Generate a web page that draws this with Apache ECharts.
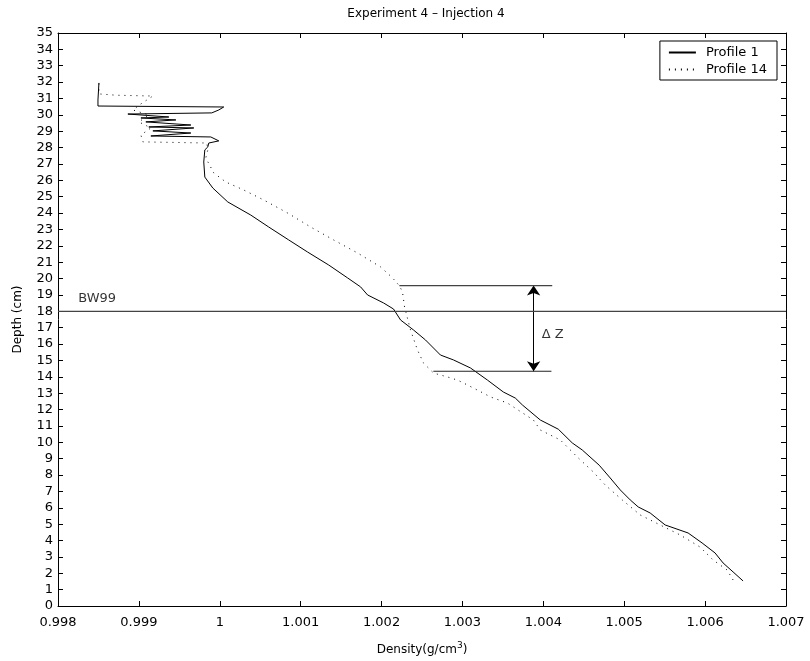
<!DOCTYPE html>
<html>
<head>
<meta charset="utf-8">
<script src="https://cdn.jsdelivr.net/npm/echarts@6/dist/echarts.min.js"></script>
<style>
  html, body { margin: 0; padding: 0; background: #fff; }
  #chart { width: 810px; height: 661px; }
</style>
</head>
<body>
<div id="chart"></div>
<script>
// Profile 1 (solid), bottom to top
const p1Density = [1.006469, 1.006346, 1.006222, 1.006123, 1.005963, 1.00579, 1.005506, 1.005321, 1.005173, 1.005074,
  1.004951, 1.004827, 1.004691, 1.004481, 1.004358, 1.004185, 1.003963, 1.003741, 1.003654, 1.003506,
  1.003309, 1.003099, 1.002889, 1.002728, 1.002543, 1.002395, 1.002235, 1.002148, 1.002025, 1.001827,
  1.001741, 1.00158, 1.001346, 1.001086, 1.000852, 1.000605, 1.000383, 1.000099, 0.999914, 0.999815,
  0.999802, 0.999815, 0.999852, 0.999864, 0.999988, 0.999889, 0.999148, 0.999642, 0.999173, 0.999679,
  0.999123, 0.999642, 0.999086, 0.999457, 0.999025, 0.99937, 0.998864, 0.999901, 0.999988, 1.000049,
  0.998494, 0.998494, 0.998506];
const p1Depth = [1.53, 2.08, 2.63, 3.24, 3.85, 4.46, 4.95, 5.68, 6.05, 6.48,
  7.09, 7.82, 8.6, 9.53, 9.96, 10.8, 11.36, 12.28, 12.7, 13.07,
  13.8, 14.54, 15.03, 15.33, 16.25, 16.86, 17.47, 18.14, 18.51, 19.0,
  19.49, 20.04, 20.83, 21.62, 22.36, 23.15, 23.88, 24.68, 25.53, 26.2,
  27.12, 27.86, 28.04, 28.28, 28.41, 28.65, 28.71, 28.89, 29.02, 29.2,
  29.26, 29.38, 29.57, 29.69, 29.81, 29.87, 30.05, 30.12, 30.3, 30.48,
  30.54, 30.91, 31.95];

// Profile 14 (dotted), bottom to top
const p14Density = [1.006346, 1.006272, 1.006099, 1.005938, 1.005691, 1.005444, 1.005198, 1.004975, 1.004765, 1.004617,
  1.00442, 1.00421, 1.003963, 1.003877, 1.003556, 1.003346, 1.003259, 1.003062, 1.002938, 1.002815,
  1.002642, 1.002519, 1.002444, 1.002358, 1.002284, 1.002259, 1.002222, 1.002136, 1.001988, 1.001704,
  1.001407, 1.001123, 1.00084, 1.000543, 1.000296, 1.000074, 0.999926, 0.999827, 0.999852, 0.99984,
  0.999049, 0.999025, 0.999148, 0.999, 0.999123, 0.998926, 0.999025, 0.999173, 0.998716, 0.998506,
  0.998506];
const p14Depth = [1.59, 2.2, 2.81, 3.6, 4.34, 4.95, 5.56, 6.48, 7.39, 8.19,
  9.1, 10.14, 10.75, 11.36, 12.4, 12.77, 13.0, 13.5, 13.8, 13.99,
  14.23, 14.84, 15.64, 16.86, 18.27, 19.18, 19.55, 20.04, 20.71, 21.56,
  22.36, 23.15, 24.0, 24.8, 25.41, 25.9, 26.45, 27.37, 27.86, 28.28,
  28.35, 28.77, 29.2, 29.57, 29.99, 30.3, 30.67, 31.15, 31.2, 31.28,
  32.0];

// reference marks
const bw99Depth = 18;
const dzTop = { depth: 19.57, from: 1.00222, to: 1.00411 };
const dzBottom = { depth: 14.34, from: 1.00264, to: 1.0041 };
const dzArrowDensity = 1.00388;

const xMin = 0.998, xMax = 1.007, yMin = 0, yMax = 35;
const font = 'DejaVu Sans';

const zip = (xs, ys) => xs.map((x, i) => [x, ys[i]]);

const chart = echarts.init(document.getElementById('chart'));

const axisCommon = {
  axisLine: { show: true, onZero: false, lineStyle: { color: '#000', width: 1 } },
  axisTick: { show: true, inside: true, length: 5, lineStyle: { color: '#000' } },
  splitLine: { show: false }
};

chart.setOption({
  animation: false,
  backgroundColor: '#fff',
  title: {
    text: 'Experiment 4 – Injection 4',
    left: 421, textAlign: 'center', top: 3,
    textStyle: { fontFamily: font, fontSize: 12, fontWeight: 'normal', color: '#000' }
  },
  grid: { left: 58, right: 24, top: 33, bottom: 55 },
  legend: {
    data: ['Profile 1', 'Profile 14'],
    orient: 'vertical',
    right: 33, top: 41,
    padding: [5, 10, 4, 8],
    itemGap: 4,
    itemWidth: 27, itemHeight: 10,
    itemStyle: { opacity: 0 },
    borderColor: '#000', borderWidth: 1, backgroundColor: '#fff',
    textStyle: { fontFamily: font, fontSize: 13, color: '#000', padding: [0, 0, 0, 5] }
  },
  xAxis: [
    Object.assign({
      type: 'value', min: xMin, max: xMax, interval: 0.001, position: 'bottom',
      name: '{a|Density(g/cm}{s|3}{a|)}', nameLocation: 'middle', nameGap: 35,
      nameTextStyle: {
        rich: {
          a: { fontFamily: font, fontSize: 12, color: '#000' },
          s: { fontFamily: font, fontSize: 9, color: '#000', verticalAlign: 'bottom', padding: [0, 0, 8, 0] }
        }
      },
      axisLabel: {
        margin: 10, fontFamily: font, fontSize: 13, color: '#000',
        formatter: v => String(+v.toFixed(3))
      }
    }, axisCommon),
    Object.assign({
      type: 'value', min: xMin, max: xMax, interval: 0.001, position: 'top',
      axisLabel: { show: false }
    }, axisCommon)
  ],
  yAxis: [
    Object.assign({
      type: 'value', min: yMin, max: yMax, interval: 1, position: 'left',
      name: 'Depth (cm)', nameLocation: 'middle', nameGap: 34,
      nameTextStyle: { fontFamily: font, fontSize: 12, color: '#000' },
      axisLabel: { margin: 5, fontFamily: font, fontSize: 13, color: '#000' }
    }, axisCommon),
    Object.assign({
      type: 'value', min: yMin, max: yMax, interval: 1, position: 'right',
      axisLabel: { show: false }
    }, axisCommon)
  ],
  series: [
    {
      name: 'Profile 1', type: 'line', symbol: 'none', silent: true,
      data: zip(p1Density, p1Depth),
      lineStyle: { color: '#000', width: 1 },
      itemStyle: { color: '#000' }
    },
    {
      name: 'Profile 14', type: 'line', symbol: 'none', silent: true,
      data: zip(p14Density, p14Depth),
      lineStyle: { color: '#000', width: 1, type: [1, 5] },
      itemStyle: { color: '#000' }
    },
    {
      name: 'BW99', type: 'line', symbol: 'none', silent: true,
      data: [[xMin, bw99Depth], [xMax, bw99Depth]],
      lineStyle: { color: '#444', width: 1.2 }
    },
    {
      name: 'dzTop', type: 'line', symbol: 'none', silent: true,
      data: [[dzTop.from, dzTop.depth], [dzTop.to, dzTop.depth]],
      lineStyle: { color: '#444', width: 1.2 }
    },
    {
      name: 'dzBottom', type: 'line', symbol: 'none', silent: true,
      data: [[dzBottom.from, dzBottom.depth], [dzBottom.to, dzBottom.depth]],
      lineStyle: { color: '#222', width: 1.2 }
    },
    {
      name: 'dzArrow', type: 'lines', coordinateSystem: 'cartesian2d', silent: true,
      symbol: ['arrow', 'arrow'], symbolSize: 10,
      lineStyle: { color: '#000', width: 1, opacity: 1 },
      data: [{ coords: [[dzArrowDensity, dzBottom.depth], [dzArrowDensity, dzTop.depth]] }]
    },
    {
      name: 'labels', type: 'scatter', symbolSize: 0, silent: true,
      data: [
        { value: [0.99825, 18.75], label: { formatter: 'BW99' } },
        { value: [1.00398, 16.55], label: { formatter: 'Δ Z' } }
      ],
      label: {
        show: true, position: 'right', distance: 0,
        fontFamily: font, fontSize: 13, color: '#000'
      }
    }
  ]
});
</script>
</body>
</html>
